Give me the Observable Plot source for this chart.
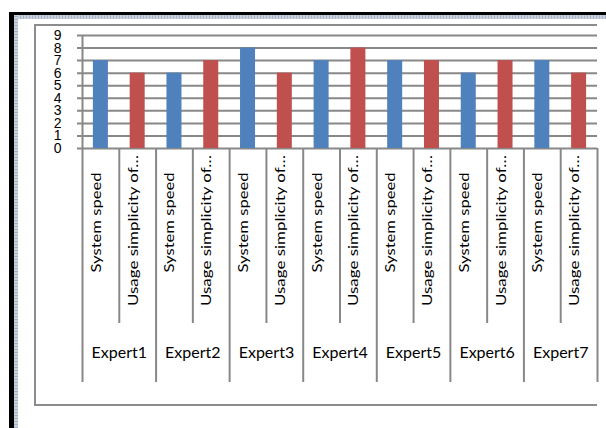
<!DOCTYPE html>
<html>
<head>
<meta charset="utf-8">
<script src="https://cdn.jsdelivr.net/npm/d3@7"></script>
<script src="https://cdn.jsdelivr.net/npm/@observablehq/plot@0.6"></script>
<style>
  html, body { margin: 0; padding: 0; background: #fff; }
  #page { position: relative; width: 606px; height: 428px; overflow: hidden; background: #fff; }
  #chart { position: absolute; left: 0; top: 0; }
  .deco { position: absolute; }
  .black-top { left: 9px; top: 12px; width: 597px; height: 3px; background: #000; }
  .black-left { left: 9px; top: 12px; width: 5px; height: 416px; background: #000; }
  .band-top { left: 14px; top: 15px; width: 592px; height: 4px;
    background: repeating-linear-gradient(90deg, #a7b3c4 0 1px, #c9d1dc 1px 3px); }
  .band-left { left: 14px; top: 15px; width: 4px; height: 413px;
    background: repeating-linear-gradient(0deg, #a7b3c4 0 1px, #c9d1dc 1px 3px); }
  .box { left: 34px; top: 24px; width: 563px; height: 382px; box-sizing: border-box;
    border-left: 2px solid #8c8c8c; border-top: 2px solid #8c8c8c; border-bottom: 2px solid #8c8c8c; }
</style>
</head>
<body>
<div id="page">
  <div id="chart"></div>
  <div class="deco box"></div>
  <div class="deco band-top"></div>
  <div class="deco band-left"></div>
  <div class="deco black-top"></div>
  <div class="deco black-left"></div>
</div>
<script>
// ---- data ----
const experts = ["Expert1", "Expert2", "Expert3", "Expert4", "Expert5", "Expert6", "Expert7"];
const criteria = ["System speed", "Usage simplicity of…"];
const systemSpeed = [7, 6, 8, 7, 7, 6, 7];
const usageSimplicity = [6, 7, 6, 8, 7, 7, 6];
const yTicks = [0, 1, 2, 3, 4, 5, 6, 7, 8, 9];

// ---- styles ----
const seriesColors = ["#4F81BD", "#C0504D"];
const gridColor = "#888888";

const data = experts.flatMap((e, i) => [
  {expert: e, criterion: criteria[0], key: e + "|" + criteria[0], value: systemSpeed[i]},
  {expert: e, criterion: criteria[1], key: e + "|" + criteria[1], value: usageSimplicity[i]}
]);
const keys = data.map(d => d.key);

const W = 606, H = 428;
const mL = 82, mR = 9, mT = 35, mB = 280;
const plotH = H - mT - mB;
const step = (W - mL - mR) / keys.length;

const firstOfGroup = data.filter(d => d.criterion === criteria[0]);
const secondOfGroup = data.filter(d => d.criterion === criteria[1]);

const chart = Plot.plot({
  width: W,
  height: H,
  marginLeft: mL,
  marginRight: mR,
  marginTop: mT,
  marginBottom: mB,
  style: {background: "transparent", fontFamily: "Lato, sans-serif", color: "#000", overflow: "visible"},
  x: {type: "band", domain: keys, paddingInner: 0.592, paddingOuter: 0.296, round: false, axis: null},
  y: {domain: [0, 9], axis: null},
  color: {domain: criteria, range: seriesColors},
  marks: [
    Plot.ruleY(yTicks, {stroke: gridColor, strokeWidth: 2, insetLeft: -5}),
    Plot.barY(data, {x: "key", y: "value", fill: "criterion"}),
    // vertical axis line + extension to the bottom of the label area
    Plot.ruleX([keys[0]], {stroke: gridColor, strokeWidth: 2, dx: -step / 2, insetBottom: -234}),
    // group boundaries
    Plot.ruleX(firstOfGroup.slice(1), {x: "key", stroke: gridColor, strokeWidth: 2, dx: -step / 2, insetTop: plotH, insetBottom: -234}),
    // boundary between the two criteria inside a group
    Plot.ruleX(secondOfGroup, {x: "key", stroke: gridColor, strokeWidth: 2, dx: -step / 2, insetTop: plotH, insetBottom: -175}),
    // right end
    Plot.ruleX([keys[keys.length - 1]], {stroke: gridColor, strokeWidth: 2, dx: step / 2, insetTop: plotH, insetBottom: -234}),
    Plot.axisY({ticks: yTicks, label: null, tickSize: 0, tickPadding: 21, fontSize: 14, fontFamily: "Liberation Sans, Arial, sans-serif", fill: "#000"}),
    Plot.text(firstOfGroup, {x: "key", text: "criterion", frameAnchor: "bottom", rotate: -90, dy: 74, fontSize: 13, fill: "#000"}),
    Plot.text(secondOfGroup, {x: "key", text: "criterion", frameAnchor: "bottom", rotate: -90, dy: 82, fontSize: 13, fill: "#000"}),
    Plot.text(firstOfGroup, {x: "key", text: "expert", frameAnchor: "bottom", dx: step / 2, dy: 209, fontSize: 16, fill: "#000"})
  ]
});

// stretch the rotated category labels to the length they have in the reference
const labelLength = {[criteria[0]]: 100, [criteria[1]]: 151};
d3.select(chart).selectAll("text").each(function () {
  const t = this.textContent;
  if (t in labelLength) {
    d3.select(this).attr("textLength", labelLength[t]).attr("lengthAdjust", "spacingAndGlyphs");
  }
});

document.getElementById("chart").appendChild(chart);
</script>
</body>
</html>
